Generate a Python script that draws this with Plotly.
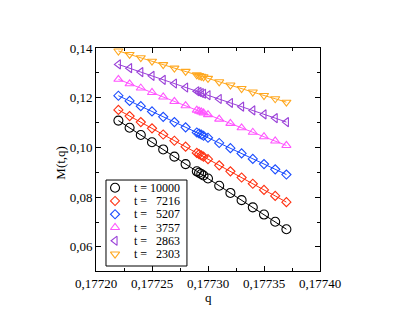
import plotly.graph_objects as go

q = [0.17722, 0.17723, 0.17724, 0.17725, 0.17726, 0.17727, 0.17728, 0.17729,
     0.177292, 0.177294, 0.177296, 0.17730, 0.17731, 0.17732, 0.17733,
     0.17734, 0.17735, 0.17736, 0.17737]

m_10000 = [0.1108, 0.1079, 0.1050, 0.1021, 0.0992, 0.0963, 0.0933, 0.0904,
           0.0898, 0.0893, 0.0887, 0.0875, 0.0846, 0.0817, 0.0788, 0.0759,
           0.0730, 0.0701, 0.0671]
m_7216 = [0.1151, 0.1126, 0.1102, 0.1077, 0.1052, 0.1027, 0.1003, 0.0978,
          0.0973, 0.0968, 0.0963, 0.0953, 0.0928, 0.0904, 0.0879, 0.0854,
          0.0829, 0.0805, 0.0780]
m_5207 = [0.1208, 0.1187, 0.1166, 0.1145, 0.1123, 0.1102, 0.1081, 0.1060,
          0.1056, 0.1052, 0.1047, 0.1039, 0.1018, 0.0997, 0.0976, 0.0954,
          0.0933, 0.0912, 0.0891]
m_3757 = [0.1274, 0.1256, 0.1239, 0.1221, 0.1203, 0.1185, 0.1168, 0.1150,
          0.1146, 0.1143, 0.1139, 0.1132, 0.1114, 0.1097, 0.1079, 0.1061,
          0.1043, 0.1026, 0.1008]
m_2863 = [0.1334, 0.1319, 0.1303, 0.1288, 0.1272, 0.1257, 0.1241, 0.1226,
          0.1223, 0.1219, 0.1216, 0.1210, 0.1195, 0.1179, 0.1164, 0.1149,
          0.1133, 0.1118, 0.1102]
m_2303 = [0.1388, 0.1374, 0.1361, 0.1347, 0.1333, 0.1319, 0.1306, 0.1292,
          0.1289, 0.1286, 0.1284, 0.1278, 0.1264, 0.1251, 0.1237, 0.1223,
          0.1209, 0.1196, 0.1182]

t_values = ["10000", "7216", "5207", "3757", "2863", "2303"]
series = [m_10000, m_7216, m_5207, m_3757, m_2863, m_2303]
colors = ["#000000", "#ff3010", "#1a4cff", "#ff55ff", "#9a40d8", "#ffa820"]
symbols = ["circle-open", "diamond-open", "diamond-open", "triangle-up-open",
           "triangle-left-open", "triangle-down-open"]
sizes = [9, 7, 7, 8, 8, 8]

FONT = "Liberation Serif, serif"

fig = go.Figure()
for t, ys, c, s, sz in zip(t_values, series, colors, symbols, sizes):
    fig.add_trace(go.Scatter(
        x=q, y=ys, mode="lines+markers", name="t = " + t,
        line=dict(color=c, width=1),
        marker=dict(symbol=s, size=sz, color=c, line=dict(color=c, width=1.1)),
        cliponaxis=False, showlegend=False,
    ))

# manual legend drawn in an overlay axis spanning the plot area (0..1)
leg_rows = [0.3735, 0.314, 0.2545, 0.195, 0.1355, 0.076]
for t, c, s, sz, yy in zip(t_values, colors, symbols, sizes, leg_rows):
    fig.add_trace(go.Scatter(
        x=[0.085], y=[yy], xaxis="x2", yaxis="y2", mode="markers",
        marker=dict(symbol=s, size=sz, color=c, line=dict(color=c, width=1.1)),
        showlegend=False, hoverinfo="skip", cliponaxis=False,
    ))

axis_common = dict(
    showline=True, linecolor="black", linewidth=1, mirror="allticks",
    ticks="inside", ticklen=5, tickcolor="black", tickwidth=1,
    showgrid=False, zeroline=False,
    tickfont=dict(family=FONT, size=13, color="black"),
)

fig.update_layout(
    width=415, height=321,
    margin=dict(l=96, r=95, t=48, b=50),
    paper_bgcolor="white", plot_bgcolor="white",
    separators=",.",
    font=dict(family=FONT, color="black"),
    showlegend=False,
    xaxis=dict(
        **axis_common,
        range=[0.17720, 0.17740], dtick=0.00005, tick0=0.17720, tickformat=".5f",
        minor=dict(ticks="inside", ticklen=3, dtick=0.000025, tickcolor="black"),
    ),
    yaxis=dict(
        **axis_common,
        range=[0.0503, 0.14], dtick=0.02, tick0=0.06, tickformat=".2f",
        minor=dict(ticks="inside", ticklen=3, dtick=0.01, tickcolor="black"),
    ),
    xaxis2=dict(overlaying="x", range=[0, 1], visible=False, fixedrange=True),
    yaxis2=dict(overlaying="y", range=[0, 1], visible=False, fixedrange=True),
)

fig.add_shape(type="rect", xref="x2", yref="y2", x0=0.0446, x1=0.406,
              y0=0.0224, y1=0.408, line=dict(color="black", width=1),
              fillcolor="white", layer="below")

NB = "\u00a0"
for t, yy in zip(t_values, leg_rows):
    pad = NB * (2 * (5 - len(t)))
    fig.add_annotation(x=0.165, y=yy, xref="x2", yref="y2",
                       text="t" + NB + "=" + NB + pad + t,
                       showarrow=False, xanchor="left", yanchor="middle",
                       borderpad=0,
                       font=dict(family=FONT, size=12, color="black"))

fig.add_annotation(x=0.5, y=-0.078, xref="paper", yref="paper", text="q",
                   showarrow=False, xanchor="center", yanchor="top",
                   font=dict(family=FONT, size=13, color="black"))
fig.add_annotation(x=-0.156, y=0.486, xref="paper", yref="paper", text="M(t,q)",
                   showarrow=False, textangle=-90, xanchor="center", yanchor="middle",
                   font=dict(family=FONT, size=13, color="black"))

fig.write_html("out.html", config={"displayModeBar": False},
               post_script="document.body.style.margin='0px';")
